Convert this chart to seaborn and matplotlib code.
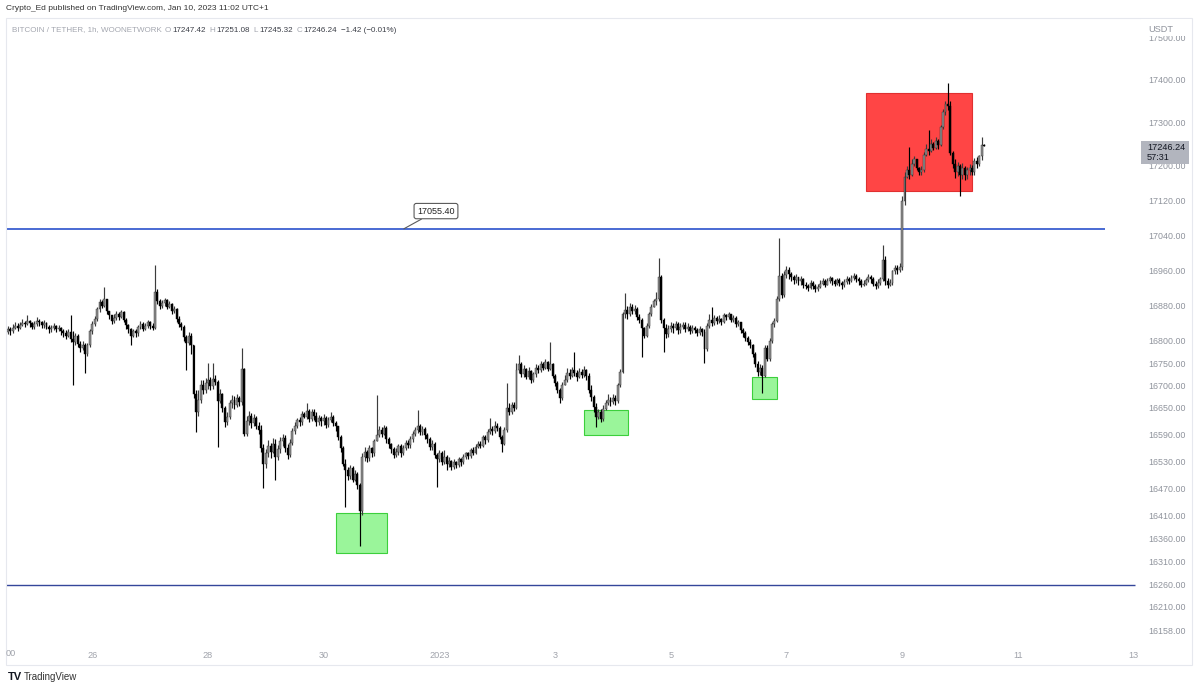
import numpy as np
import pandas as pd
import matplotlib
matplotlib.use('Agg')
from matplotlib import pyplot as plt
from matplotlib.patches import Rectangle
from matplotlib.ticker import FixedLocator, FixedFormatter, NullLocator
import seaborn as sns

# ---------------- data (BTC/USDT 1h, Dec 24 13:00 -> Jan 10 11:00) -------------
first_open = 16820

closes = [
    # Dec 24 13:00 - Dec 25 23:00
    16826, 16822, 16830, 16834, 16829, 16836, 16841, 16838, 16846, 16840,
    16832, 16838, 16845, 16843, 16836, 16840, 16831, 16826, 16829, 16833,
    16827, 16830, 16822, 16818, 16812, 16820, 16805, 16798, 16812, 16793,
    16785, 16792, 16770, 16790, 16822, 16838,
    # Dec 26 - Dec 29
    16850, 16872, 16889, 16880, 16895, 16868, 16858, 16846, 16852, 16862,
    16855, 16866, 16848, 16836, 16826, 16812, 16822, 16818, 16832, 16838,
    16828, 16835, 16842, 16834, 16830, 16912, 16890, 16880, 16886, 16892,
    16878, 16884, 16868, 16872, 16850, 16838, 16832, 16808, 16795, 16812,
    16790, 16680, 16640, 16668, 16700, 16690, 16705, 16712, 16698, 16715,
    16708, 16665, 16680, 16650, 16618, 16630, 16660, 16668, 16656, 16672,
    16662, 16738, 16592, 16620, 16632, 16615, 16628, 16610, 16600, 16560,
    16525, 16548, 16565, 16552, 16570, 16540, 16558, 16575, 16582, 16560,
    16545, 16572, 16598, 16610, 16622, 16618, 16635, 16630, 16642, 16625,
    16640, 16632, 16618, 16628, 16620,
    # Dec 30 - Jan 2
    16628, 16612, 16622, 16630, 16615, 16608, 16585, 16560, 16525, 16512,
    16498, 16515, 16490, 16502, 16478, 16420, 16540, 16552, 16538, 16560,
    16548, 16575, 16590, 16600, 16592, 16605, 16580, 16568, 16558, 16545,
    16552, 16565, 16548, 16560, 16572, 16566, 16580, 16592, 16600, 16610,
    16596, 16602, 16588, 16580, 16562, 16570, 16545, 16535, 16550, 16528,
    16540, 16525, 16532, 16518, 16530, 16522, 16535, 16528, 16540, 16548,
    16542, 16556, 16550, 16562, 16570, 16565, 16585, 16578, 16595, 16602,
    16598, 16610, 16605, 16585, 16570, 16600, 16650, 16640, 16655, 16650,
    16735, 16748, 16725, 16738, 16720, 16732, 16712, 16725, 16740, 16735,
    16748, 16740, 16752, 16738, 16748, 16722, 16705, 16690, 16672, 16700,
    # Jan 3 - Jan 6
    16712, 16728, 16722, 16735, 16728, 16720, 16730, 16724, 16735, 16722,
    16690, 16675, 16652, 16630, 16640, 16625, 16648, 16660, 16668, 16662,
    16672, 16665, 16700, 16730, 16860, 16870, 16862, 16878, 16868, 16872,
    16855, 16848, 16830, 16812, 16835, 16860, 16878, 16890, 16895, 16945,
    16848, 16830, 16815, 16828, 16835, 16830, 16838, 16825, 16832, 16836,
    16828, 16832, 16822, 16830, 16825, 16818, 16828, 16820, 16782, 16835,
    16848, 16840, 16852, 16845, 16850, 16843, 16858, 16855, 16862, 16848,
    16852, 16838, 16842, 16825, 16818, 16806, 16798, 16790, 16770, 16748,
    16730, 16740, 16722, 16785, 16760, 16800, 16838, 16845, 16895, 16948,
    16905, 16950, 16962, 16952, 16945, 16938, 16945, 16935, 16940, 16928,
    # Jan 7 - Jan 10
    16925, 16920, 16932, 16925, 16918, 16922, 16930, 16935, 16928, 16936,
    16942, 16935, 16930, 16938, 16932, 16926, 16934, 16940, 16936, 16944,
    16948, 16940, 16935, 16928, 16930, 16938, 16945, 16940, 16930, 16925,
    16932, 16940, 16985, 16935, 16928, 16932, 16958, 16965, 16962, 16968,
    17120, 17175, 17190, 17180, 17205, 17215, 17195, 17185, 17190, 17225,
    17240, 17235, 17250, 17242, 17258, 17248, 17290, 17325, 17345, 17340,
    17230, 17205, 17185, 17200, 17180, 17195, 17178, 17190, 17195, 17185,
    17212, 17205, 17222, 17247.42, 17246.24,
]

highs = [
    16834, 16832, 16838, 16842, 16840, 16844, 16850, 16846, 16858, 16848,
    16842, 16846, 16855, 16850, 16846, 16848, 16842, 16836, 16836, 16840,
    16836, 16836, 16832, 16826, 16824, 16826, 16859, 16822, 16818, 16816,
    16800, 16800, 16796, 16796, 16828, 16846,
    16856, 16878, 16894, 16892, 16922, 16880, 16866, 16856, 16860, 16868,
    16866, 16870, 16868, 16852, 16838, 16830, 16828, 16826, 16836, 16846,
    16842, 16840, 16848, 16846, 16840, 16973, 16918, 16894, 16892, 16898,
    16894, 16890, 16886, 16880, 16874, 16856, 16844, 16836, 16814, 16820,
    16818, 16792, 16690, 16690, 16712, 16712, 16716, 16750, 16720, 16750,
    16724, 16712, 16692, 16684, 16654, 16640, 16668, 16678, 16676, 16680,
    16676, 16785, 16740, 16632, 16642, 16638, 16636, 16632, 16618, 16612,
    16568, 16558, 16578, 16572, 16582, 16580, 16566, 16584, 16592, 16590,
    16568, 16580, 16605, 16618, 16628, 16630, 16642, 16640, 16661, 16648,
    16648, 16646, 16640, 16634, 16632,
    16636, 16632, 16630, 16640, 16634, 16620, 16610, 16590, 16565, 16535,
    16518, 16522, 16520, 16512, 16506, 16482, 16548, 16562, 16556, 16566,
    16562, 16580, 16679, 16608, 16606, 16612, 16608, 16585, 16572, 16562,
    16560, 16570, 16568, 16566, 16578, 16578, 16586, 16598, 16606, 16645,
    16614, 16608, 16606, 16594, 16584, 16578, 16574, 16550, 16556, 16554,
    16556, 16545, 16540, 16534, 16536, 16532, 16540, 16538, 16546, 16552,
    16552, 16560, 16562, 16568, 16575, 16576, 16590, 16590, 16602, 16627,
    16608, 16620, 16615, 16608, 16590, 16606, 16706, 16660, 16662, 16662,
    16750, 16769, 16752, 16746, 16740, 16742, 16734, 16730, 16748, 16746,
    16756, 16752, 16760, 16756, 16798, 16750, 16726, 16710, 16694, 16708,
    16724, 16740, 16736, 16742, 16775, 16734, 16740, 16736, 16744, 16738,
    16728, 16700, 16678, 16660, 16648, 16646, 16656, 16668, 16680, 16674,
    16680, 16678, 16706, 16736, 16866, 16909, 16880, 16886, 16884, 16882,
    16876, 16862, 16852, 16832, 16840, 16866, 16884, 16896, 16910, 16989,
    16950, 16852, 16838, 16836, 16842, 16840, 16846, 16842, 16840, 16842,
    16842, 16840, 16836, 16836, 16834, 16830, 16834, 16830, 16826, 16840,
    16860, 16877, 16858, 16856, 16858, 16852, 16864, 16862, 16866, 16862,
    16858, 16856, 16848, 16844, 16830, 16822, 16812, 16804, 16794, 16776,
    16756, 16748, 16745, 16790, 16790, 16806, 16842, 16852, 16902, 17035,
    16955, 16958, 16970, 16968, 16956, 16950, 16952, 16946, 16948, 16944,
    16934, 16930, 16938, 16936, 16930, 16930, 16938, 16942, 16940, 16944,
    16948, 16946, 16940, 16944, 16944, 16936, 16940, 16948, 16946, 16950,
    16954, 16952, 16946, 16940, 16938, 16944, 16952, 16950, 16946, 16936,
    16940, 16946, 17018, 16992, 16944, 16940, 16962, 16972, 16972, 16976,
    17130, 17185, 17200, 17244, 17215, 17224, 17212, 17198, 17200, 17232,
    17250, 17284, 17262, 17256, 17266, 17262, 17296, 17332, 17352, 17393,
    17350, 17235, 17215, 17210, 17205, 17208, 17200, 17198, 17204, 17202,
    17218, 17220, 17225, 17268, 17251.08,
]

lows = [
    16816, 16814, 16818, 16826, 16822, 16826, 16834, 16832, 16836, 16832,
    16826, 16828, 16834, 16834, 16830, 16830, 16826, 16818, 16820, 16824,
    16820, 16822, 16814, 16810, 16804, 16808, 16798, 16701, 16792, 16786,
    16776, 16780, 16728, 16766, 16786, 16816,
    16834, 16846, 16866, 16874, 16876, 16860, 16850, 16838, 16840, 16848,
    16848, 16852, 16842, 16828, 16818, 16791, 16808, 16810, 16812, 16828,
    16822, 16824, 16830, 16828, 16824, 16826, 16884, 16872, 16874, 16880,
    16872, 16874, 16862, 16864, 16844, 16832, 16824, 16800, 16735, 16790,
    16770, 16672, 16596, 16632, 16660, 16680, 16684, 16692, 16690, 16692,
    16700, 16563, 16660, 16640, 16606, 16612, 16624, 16650, 16648, 16652,
    16654, 16656, 16586, 16586, 16612, 16604, 16608, 16602, 16592, 16552,
    16472, 16516, 16540, 16538, 16548, 16490, 16534, 16550, 16564, 16552,
    16536, 16540, 16566, 16592, 16604, 16608, 16612, 16626, 16624, 16618,
    16620, 16622, 16610, 16612, 16608,
    16612, 16604, 16606, 16618, 16610, 16598, 16578, 16552, 16520, 16430,
    16490, 16492, 16484, 16486, 16470, 16343, 16412, 16532, 16530, 16532,
    16540, 16542, 16580, 16584, 16584, 16588, 16572, 16560, 16548, 16538,
    16540, 16544, 16540, 16544, 16556, 16560, 16560, 16574, 16586, 16594,
    16588, 16590, 16580, 16572, 16556, 16556, 16538, 16474, 16528, 16522,
    16524, 16512, 16518, 16512, 16514, 16516, 16518, 16520, 16524, 16536,
    16536, 16538, 16544, 16546, 16560, 16560, 16562, 16570, 16574, 16592,
    16590, 16594, 16598, 16580, 16552, 16566, 16596, 16634, 16636, 16642,
    16646, 16728, 16719, 16718, 16714, 16714, 16706, 16708, 16720, 16728,
    16730, 16734, 16736, 16732, 16734, 16716, 16698, 16684, 16661, 16668,
    16702, 16708, 16714, 16718, 16722, 16710, 16716, 16716, 16720, 16712,
    16682, 16664, 16640, 16607, 16624, 16618, 16620, 16644, 16656, 16654,
    16658, 16656, 16660, 16696, 16728, 16852, 16850, 16856, 16860, 16862,
    16848, 16840, 16764, 16806, 16808, 16830, 16856, 16876, 16882, 16890,
    16840, 16775, 16806, 16810, 16820, 16818, 16824, 16816, 16818, 16826,
    16820, 16822, 16816, 16818, 16818, 16812, 16814, 16812, 16750, 16778,
    16830, 16834, 16836, 16838, 16840, 16836, 16840, 16848, 16850, 16842,
    16844, 16832, 16834, 16818, 16810, 16800, 16792, 16784, 16764, 16742,
    16722, 16724, 16683, 16718, 16756, 16756, 16796, 16832, 16842, 16890,
    16898, 16900, 16944, 16940, 16936, 16930, 16932, 16926, 16928, 16920,
    16918, 16914, 16918, 16918, 16912, 16914, 16920, 16926, 16922, 16926,
    16932, 16928, 16924, 16926, 16924, 16918, 16922, 16930, 16930, 16934,
    16938, 16934, 16928, 16922, 16924, 16926, 16934, 16932, 16924, 16918,
    16920, 16928, 16936, 16928, 16920, 16924, 16928, 16952, 16952, 16956,
    16960, 17110, 17172, 17170, 17176, 17200, 17190, 17178, 17180, 17186,
    17222, 17226, 17232, 17236, 17240, 17240, 17246, 17286, 17318, 17330,
    17225, 17196, 17172, 17176, 17131, 17170, 17168, 17170, 17180, 17178,
    17180, 17196, 17200, 17214, 17245.32,
]

day_ticks = [35, 83, 131, 179, 227, 275, 323, 371, 419, 467]
day_labels = ['26', '28', '30', '2023', '3', '5', '7', '9', '11', '13']
price_ticks = [17500, 17400, 17300, 17200, 17120, 17040, 16960, 16880, 16800,
               16750, 16700, 16650, 16590, 16530, 16470, 16410, 16360, 16310,
               16260, 16210, 16158]

level_main = 17055.40
level_low = 16258
red_zone = (356.0, 400.0, 17142, 17370)
green_zones = [(136.1, 157.3, 16328, 16416),
               (239.0, 257.3, 16589, 16645),
               (308.7, 319.1, 16670, 16719)]

# ---------------- build frame ----------------
df = pd.DataFrame({'close': closes, 'high': highs, 'low': lows})
df['open'] = df['close'].shift(1).fillna(first_open)
df['high'] = df[['high', 'open', 'close']].max(axis=1)
df['low'] = df[['low', 'open', 'close']].min(axis=1)
df['up'] = df['close'] >= df['open']

sns.set_theme(style='white')
plt.rcParams['font.family'] = ['Liberation Sans', 'DejaVu Sans']

W, H = 1200, 690
fig = plt.figure(figsize=(12, 6.9), dpi=100)


def fx(px):
    return px / W


def fy(py):
    return 1 - py / H


ax = fig.add_axes([fx(6), fy(641), fx(1140) - fx(6), fy(18) - fy(641)])
ax.set_yscale('log')
ax.set_xlim(-0.8, 469.7)
ax.set_ylim(16135.9, 17545.6)

# zones
x0, x1, y0, y1 = red_zone
ax.add_patch(Rectangle((x0, y0), x1 - x0, y1 - y0, facecolor='#ff4545',
                       edgecolor='#e03030', lw=0.8, zorder=1))
for gx0, gx1, gy0, gy1 in green_zones:
    ax.add_patch(Rectangle((gx0, gy0), gx1 - gx0, gy1 - gy0, facecolor='#9af59a',
                           edgecolor='#3ccf3c', lw=0.8, zorder=1))

# levels
ax.hlines(level_main, -0.8, 455.2, color='#3a5fd0', lw=1.3, zorder=2)
ax.hlines(level_low, -0.8, 467.6, color='#34469a', lw=1.0, zorder=2)

# candles
up = df[df['up']]
dn = df[~df['up']]
ax.vlines(up.index, up['low'], up['high'], color='#3c3c3c', lw=0.85, zorder=3)
ax.vlines(dn.index, dn['low'], dn['high'], color='#000000', lw=0.85, zorder=3)
body_lo = df[['open', 'close']].min(axis=1)
body_h = (df['close'] - df['open']).abs().clip(lower=2.0)
ax.bar(up.index, body_h[df['up']], bottom=body_lo[df['up']], width=0.8,
       color='#8e8e8e', edgecolor='#2e2e2e', linewidth=0.3, zorder=4)
ax.bar(dn.index, body_h[~df['up']], bottom=body_lo[~df['up']], width=0.8,
       color='#000000', edgecolor='#000000', linewidth=0.3, zorder=4)

# level label
ax.annotate('17055.40', xy=(164.3, level_main), xytext=(177.6, 17096),
            ha='center', va='center', fontsize=6.5, color='#222222',
            bbox=dict(boxstyle='round,pad=0.35,rounding_size=0.25', fc='white',
                      ec='#5a5a5a', lw=0.8),
            arrowprops=dict(arrowstyle='-', color='#5a5a5a', lw=0.8,
                            shrinkA=0, shrinkB=0), zorder=6)

# axes styling
ax.grid(False)
for s in ax.spines.values():
    s.set_visible(False)
ax.yaxis.tick_right()
ax.yaxis.set_major_locator(FixedLocator(price_ticks))
ax.yaxis.set_major_formatter(FixedFormatter([f'{p:.2f}' for p in price_ticks]))
ax.yaxis.set_minor_locator(NullLocator())
ax.tick_params(axis='y', length=0, pad=6, labelsize=6.4, labelcolor='#8f939c')
ax.set_xticks(day_ticks)
ax.set_xticklabels(day_labels)
ax.tick_params(axis='x', length=0, pad=7, labelsize=6.6, labelcolor='#a0a3ab')

# truncated time label on the left edge
fig.text(fx(6), fy(654), '00', fontsize=6.6, color='#a0a3ab', ha='left', va='center')

# outer frame
fig.add_artist(Rectangle((fx(6), fy(665)), fx(1192) - fx(6), fy(18) - fy(665),
                         transform=fig.transFigure, fill=False,
                         edgecolor='#e6e8ee', lw=0.8))

# price axis header and last price tag
fig.add_artist(Rectangle((fx(1141), fy(36)), fx(50), fy(19) - fy(36),
                         transform=fig.transFigure, facecolor='white',
                         edgecolor='none', zorder=10))
fig.text(fx(1148), fy(30), 'USDT', fontsize=6.6, color='#8f939c', ha='left',
         va='center', zorder=11)
fig.add_artist(Rectangle((fx(1141), fy(164)), fx(48), fy(141) - fy(164),
                         transform=fig.transFigure, facecolor='#b2b5be',
                         edgecolor='none', zorder=10))
fig.text(fx(1147), fy(147), '17246.24', fontsize=6.6, color='#131722',
         ha='left', va='center', zorder=11)
fig.text(fx(1147), fy(158), '57:31', fontsize=6.6, color='#131722',
         ha='left', va='center', zorder=11)

# header texts
fig.text(fx(6), fy(9), 'Crypto_Ed published on TradingView.com, Jan 10, 2023 11:02 UTC+1',
         fontsize=6.0, color='#333333', ha='left', va='center')

renderer = fig.canvas.get_renderer()
parts = [('BITCOIN / TETHER, 1h, WOONETWORK', '#a3a6af', 0),
         ('O', '#a3a6af', 3), ('17247.42', '#3b3e47', 1),
         ('H', '#a3a6af', 4), ('17251.08', '#3b3e47', 1),
         ('L', '#a3a6af', 4), ('17245.32', '#3b3e47', 1),
         ('C', '#a3a6af', 4), ('17246.24', '#3b3e47', 1),
         ('\u22121.42 (\u22120.01%)', '#3b3e47', 4)]
cur = 12
for txt, col, gap in parts:
    cur += gap
    t = fig.text(fx(cur), fy(30), txt, fontsize=5.8, color=col, ha='left',
                 va='center')
    cur = t.get_window_extent(renderer).x1

# footer logo
fig.text(fx(8), fy(677), 'TV', fontsize=8, fontweight='bold', color='#131722',
         ha='left', va='center')
fig.text(fx(24), fy(677), 'TradingView', fontsize=7, color='#333333',
         ha='left', va='center')

fig.savefig('out.png', dpi=100, facecolor='white')
